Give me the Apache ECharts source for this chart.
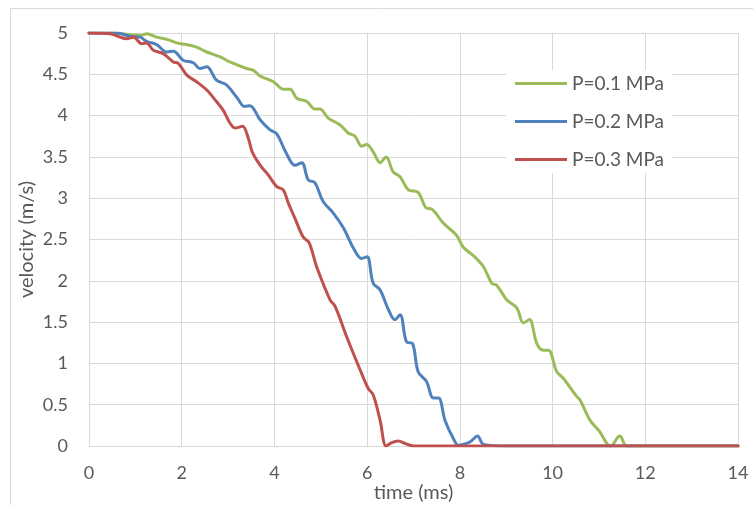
<!DOCTYPE html>
<html>
<head>
<meta charset="utf-8">
<script src="https://cdn.jsdelivr.net/npm/echarts@6/dist/echarts.min.js"></script>
<style>html,body{margin:0;padding:0;background:#fff;}#c{width:753px;height:505px;}</style>
</head>
<body>
<div id="c"></div>
<script>
var seriesNames = ['P=0.1 MPa', 'P=0.2 MPa', 'P=0.3 MPa'];
var xTicks = [0, 2, 4, 6, 8, 10, 12, 14];
var yTicks = [0, 0.5, 1, 1.5, 2, 2.5, 3, 3.5, 4, 4.5, 5];

var tGreen = [0,0.5,0.9,1.1,1.25,1.46,1.7,1.89,2.1,2.32,2.54,2.83,3.04,3.4,3.54,3.69,3.98,4.19,4.34,4.48,4.7,4.87,4.98,5.16,5.41,5.59,5.74,5.88,5.99,6.13,6.28,6.41,6.56,6.71,6.89,7.1,7.28,7.39,7.64,7.93,8.07,8.3,8.51,8.69,8.79,9.01,9.23,9.37,9.5,9.66,9.8,9.91,10.09,10.23,10.52,10.59,10.81,11.02,11.17,11.25,11.45,11.6,12,14];
var vGreen = [5,5,4.98,4.97,4.99,4.95,4.92,4.88,4.86,4.83,4.77,4.71,4.65,4.57,4.55,4.48,4.41,4.32,4.32,4.21,4.17,4.08,4.08,3.97,3.89,3.79,3.75,3.63,3.65,3.56,3.43,3.50,3.32,3.26,3.10,3.07,2.88,2.87,2.70,2.55,2.41,2.3,2.17,1.97,1.95,1.77,1.67,1.49,1.53,1.24,1.16,1.16,0.90,0.82,0.60,0.56,0.31,0.17,0.03,0,0.12,0,0,0];

var tBlue = [0,0.6,0.88,1.1,1.24,1.46,1.68,1.82,2.03,2.25,2.39,2.54,2.75,2.97,3.19,3.36,3.47,3.69,3.90,4.05,4.26,4.44,4.59,4.73,4.87,5.05,5.27,5.49,5.70,5.88,6.0,6.13,6.28,6.46,6.60,6.71,6.85,6.98,7.10,7.28,7.43,7.54,7.68,7.86,7.97,8.22,8.38,8.51,9,14];
var vBlue = [5,5,4.96,4.95,4.90,4.86,4.77,4.78,4.67,4.64,4.57,4.59,4.43,4.37,4.22,4.11,4.12,3.95,3.83,3.78,3.54,3.40,3.43,3.22,3.19,2.96,2.82,2.64,2.40,2.27,2.29,1.97,1.89,1.65,1.53,1.59,1.26,1.24,0.90,0.78,0.58,0.58,0.31,0.09,0.01,0.05,0.12,0.02,0,0];

var tRed = [0,0.45,0.67,0.81,0.96,1.14,1.24,1.39,1.60,1.82,1.93,2.11,2.32,2.54,2.75,2.90,3.04,3.15,3.31,3.44,3.52,3.69,3.87,4.05,4.19,4.30,4.44,4.62,4.75,4.91,5.20,5.31,5.56,5.85,6.02,6.13,6.28,6.41,6.53,6.67,6.82,7.0,14];
var vRed = [5,4.99,4.95,4.93,4.95,4.87,4.88,4.79,4.75,4.65,4.63,4.49,4.41,4.31,4.17,4.06,3.91,3.85,3.87,3.72,3.56,3.40,3.28,3.14,3.10,2.94,2.76,2.53,2.46,2.17,1.77,1.69,1.32,0.92,0.70,0.62,0.31,0,0.04,0.06,0.03,0,0];

var colors = ['#9BBB59', '#4F81BD', '#C0504D'];
function pairs(t, v) { return t.map(function (x, i) { return [x, v[i]]; }); }
var allData = [pairs(tGreen, vGreen), pairs(tBlue, vBlue), pairs(tRed, vRed)];

var font = 'Lato, "Liberation Sans", sans-serif';
var chart = echarts.init(document.getElementById('c'), null, {renderer: 'canvas'});
chart.setOption({
  animation: false,
  backgroundColor: '#fff',
  graphic: [{
    type: 'rect', left: 8, top: 6, z: -10,
    shape: {width: 800, height: 600},
    style: {fill: 'none', stroke: '#d9d9d9', lineWidth: 1}
  }],
  grid: {left: 89, right: 15, top: 33, bottom: 59, containLabel: false, outerBoundsMode: 'none'},
  legend: {
    data: seriesNames,
    orient: 'vertical',
    left: 506, top: 70,
    backgroundColor: '#fff',
    padding: [4, 8, 4, 9],
    itemGap: 19,
    icon: 'rect',
    itemWidth: 52, itemHeight: 3,
    itemStyle: {borderWidth: 0},
    textStyle: {fontFamily: font, fontSize: 19, color: '#595959'}
  },
  xAxis: {
    type: 'value', min: xTicks[0], max: xTicks[xTicks.length - 1], interval: 2,
    name: 'time (ms)', nameLocation: 'middle', nameGap: 37, nameMoveOverlap: false,
    nameTextStyle: {fontFamily: font, fontSize: 20, color: '#595959'},
    axisLine: {show: true, lineStyle: {color: '#d9d9d9', width: 1}},
    axisTick: {show: false},
    axisLabel: {fontFamily: font, fontSize: 18, color: '#595959', margin: 18},
    splitLine: {show: true, lineStyle: {color: '#d9d9d9', width: 1}}
  },
  yAxis: {
    type: 'value', min: yTicks[0], max: yTicks[yTicks.length - 1], interval: 0.5,
    name: 'velocity (m/s)', nameLocation: 'middle', nameGap: 52, nameMoveOverlap: false,
    nameTextStyle: {fontFamily: font, fontSize: 20, color: '#595959'},
    axisLine: {show: true, lineStyle: {color: '#d9d9d9', width: 1}},
    axisTick: {show: false},
    axisLabel: {fontFamily: font, fontSize: 18, color: '#595959', margin: 21},
    splitLine: {show: true, lineStyle: {color: '#d9d9d9', width: 1}}
  },
  series: seriesNames.map(function (n, i) {
    return {
      name: n, type: 'line', data: allData[i], smooth: 0.35,
      showSymbol: false, symbol: 'none',
      lineStyle: {color: colors[i], width: 3, cap: 'round', join: 'round'},
      itemStyle: {color: colors[i]},
      z: 2 + i
    };
  })
});
</script>
</body>
</html>
